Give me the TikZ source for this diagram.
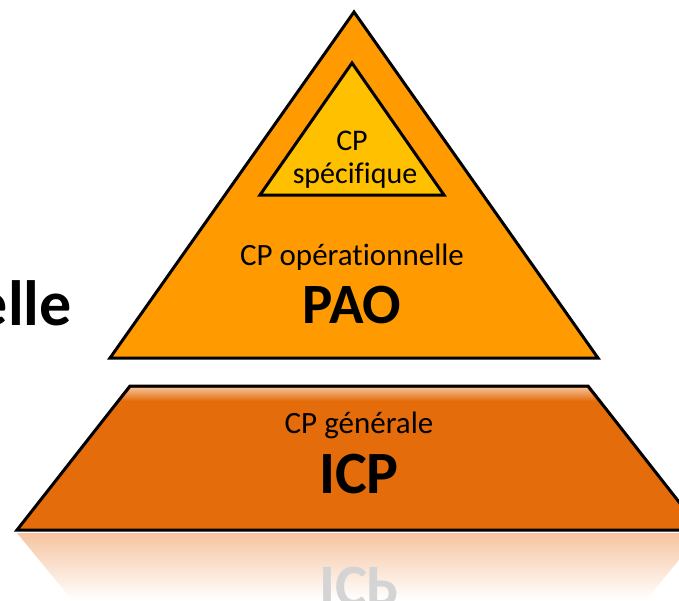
\documentclass[tikz,border=0pt]{standalone}
\usepackage{fontspec}
\setmainfont{Carlito}[Ligatures=NoCommon]
\definecolor{paoorange}{RGB}{255,155,0}
\definecolor{cpgold}{RGB}{255,192,0}
\definecolor{icporange}{RGB}{228,108,10}
\definecolor{reflect}{RGB}{246,196,160}

\begin{document}
\begin{tikzpicture}[x=1pt,y=-1pt,
    layer/.style={draw=black, line width=3pt, line join=miter},
    label/.style={font=\fontsize{31}{36}\selectfont, inner sep=0pt, anchor=base},
    title/.style={font=\fontsize{60}{64}\selectfont\bfseries, inner sep=0pt, anchor=base}]
    \useasboundingbox (0,0) rectangle (679,600);

    % Reflection under the base
    \shade[top color=reflect, bottom color=white] (17,533) -- (701,533) -- (646,600) -- (72,600) -- cycle;
    \node[title, yscale=-1, text=black!17] (icpmirror) at (359,567) {ICP};

    % Base trapezoid (general)
    \fill[icporange] (130,386) -- (588,386) -- (701,530) -- (17,530) -- cycle;
    \shade[top color=icporange!45!white, bottom color=icporange] (131,388) -- (587,388) -- (597,401) -- (121,401) -- cycle;
    \draw[layer] (130,386) -- (588,386) -- (701,530) -- (17,530) -- cycle;

    \node[label] (generale) at (359,433) {CP générale};
    \node[title] (icp) at (359,493) {ICP};

    % Big triangle (operational)
    \draw[layer, fill=paoorange] (354,12) -- (598,358) -- (110,358) -- cycle;

    \node[label] (operationnelle) at (352,265) {CP opérationnelle};
    \node[title, font=\fontsize{57}{60}\selectfont\bfseries] (pao) at (352,323) {PAO};

    % Small triangle (specific)
    \draw[layer, fill=cpgold] (352,63) -- (444,195) -- (260,195) -- cycle;

    \node[label, font=\fontsize{30}{36}\selectfont] (cp) at (352,150) {CP};
    \node[label, font=\fontsize{30}{36}\selectfont] (specifique) at (355,183) {spécifique};

    % Cut-off word on the left
    \node[title, font=\fontsize{64}{68}\selectfont\bfseries, anchor=base east] (elle) at (72,325) {elle};
\end{tikzpicture}
\end{document}
